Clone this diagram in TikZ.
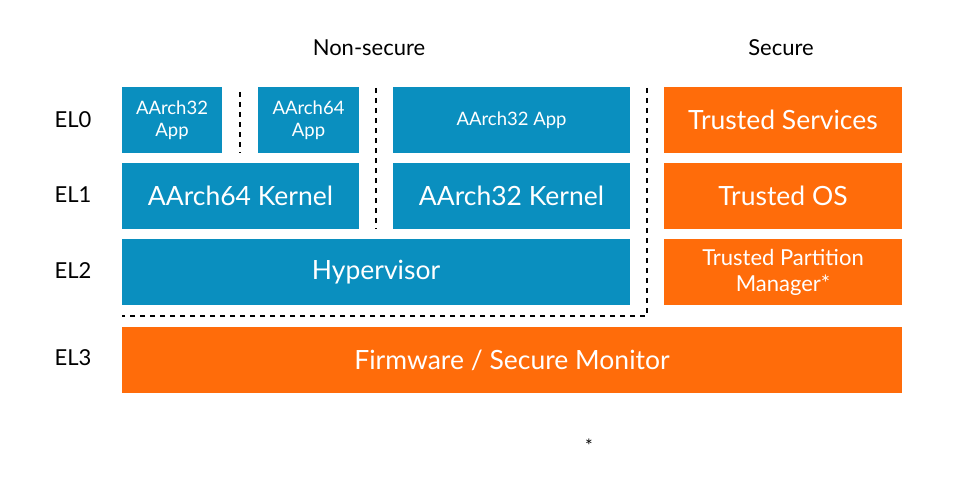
\documentclass[tikz,border=0pt]{standalone}
\usepackage{fontspec}
\setmainfont{Lato}
\definecolor{armblue}{HTML}{0A8FBF}
\definecolor{armorange}{HTML}{FF6C0A}
\begin{document}
\begin{tikzpicture}[x=1pt,y=-1pt,
  blk/.style={rectangle,inner sep=0pt,text=white,align=center,font=\fontsize{26.5}{28}\selectfont},
  nsblk/.style={blk,fill=armblue},
  sblk/.style={blk,fill=armorange},
  small/.style={font=\fontsize{18.5}{22}\selectfont},
  mid/.style={font=\fontsize{22}{26}\selectfont},
  lbl/.style={font=\fontsize{22}{24}\selectfont,text=black},
  sep/.style={draw=black,line width=2.4pt,dash pattern=on 5pt off 5pt}]
\useasboundingbox (0,0) rectangle (957,500);
% titles
\node[lbl] (ns) at (369,48) {Non-secure};
\node[lbl] (sc) at (781,48) {Secure};
% EL labels
\node[lbl] (el0) at (73,120) {EL0};
\node[lbl] (el1) at (73,195) {EL1};
\node[lbl] (el2) at (73,271) {EL2};
\node[lbl] (el3) at (73,358) {EL3};
% EL0
\node[nsblk,small,minimum width=100pt,minimum height=66pt] (a32app) at (172,120) {AArch32\\App};
\node[nsblk,small,minimum width=101pt,minimum height=66pt] (a64app) at (308.5,120) {AArch64\\App};
\node[nsblk,small,minimum width=237pt,minimum height=66pt] (a32appw) at (511.5,120) {AArch32 App};
\node[sblk,minimum width=238pt,minimum height=66pt] (tsvc) at (783,120) {Trusted Services};
% EL1
\node[nsblk,minimum width=237pt,minimum height=66pt] (k64) at (240.5,196) {AArch64 Kernel};
\node[nsblk,minimum width=237pt,minimum height=66pt] (k32) at (511.5,196) {AArch32 Kernel};
\node[sblk,minimum width=238pt,minimum height=66pt] (tos) at (783,196) {Trusted OS};
% EL2
\node[nsblk,minimum width=508pt,minimum height=66pt] (hyp) at (376,272) {Hypervisor};
\node[sblk,mid,minimum width=238pt,minimum height=66pt] (tpm) at (783,272) {Trusted Partition\\Manager*};
% EL3
\node[sblk,minimum width=780pt,minimum height=66pt] (fw) at (512,360) {Firmware / Secure Monitor};
% separators
\coordinate (d1a) at (240,92);
\coordinate (d1b) at (240,153);
\coordinate (d2a) at (376,88);
\coordinate (d2b) at (376,229);
\coordinate (d3a) at (647,88);
\coordinate (d3b) at (647,316);
\coordinate (d3c) at (122,316);
\draw[sep] (d1a) -- (d1b);
\draw[sep] (d2a) -- (d2b);
\draw[sep] (d3a) -- (d3b) -- (d3c);
% footnote
\node[font=\fontsize{18}{20}\selectfont] (note) at (589,446) {*};
\end{tikzpicture}
\end{document}
